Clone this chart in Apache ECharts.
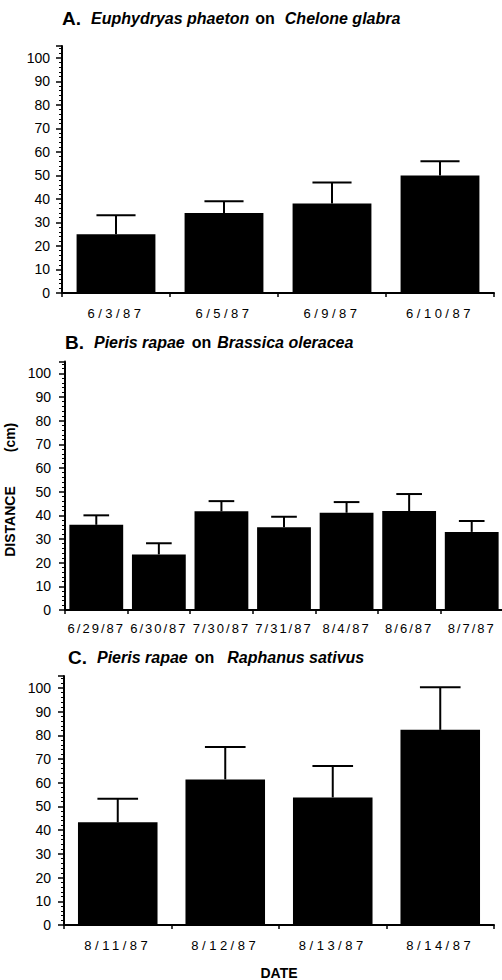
<!DOCTYPE html>
<html>
<head>
<meta charset="utf-8">
<script src="https://cdn.jsdelivr.net/npm/echarts@6/dist/echarts.min.js"></script>
<style>
html,body{margin:0;padding:0;background:#fff}
#c{width:502px;height:980px}
#c text[style*="xwide"]{letter-spacing:3.5px}
#c text[style*="xnarrow"]{letter-spacing:2px}
</style>
</head>
<body>
<div id="c"></div>
<script>
// ---- data ----
var catsA = ['6/3/87', '6/5/87', '6/9/87', '6/10/87'];
var meanA = [25, 34, 38, 50];
var upperA = [33, 39, 47, 56];

var catsB = ['6/29/87', '6/30/87', '7/30/87', '7/31/87', '8/4/87', '8/6/87', '8/7/87'];
var meanB = [36, 23.5, 41.7, 35, 41.1, 41.8, 33];
var upperB = [40, 28.2, 46, 39.4, 45.6, 49, 37.6];

var catsC = ['8/11/87', '8/12/87', '8/13/87', '8/14/87'];
var meanC = [43.3, 61.4, 53.8, 82.3];
var upperC = [53.2, 75.1, 67, 100.3];

var yTicks = [0, 10, 20, 30, 40, 50, 60, 70, 80, 90, 100];

// ---- helpers ----
var FF = "'Liberation Sans', Arial, Helvetica, sans-serif";

function errData(means, uppers) {
  return means.map(function (m, i) { return [i, m, uppers[i]]; });
}
function errRender(ratio) {
  return function (params, api) {
    var i = api.value(0), m = api.value(1), u = api.value(2);
    var p0 = api.coord([i, m]), p1 = api.coord([i, u]);
    var half = api.size([1, 0])[0] * ratio / 2;
    var st = { stroke: '#000', lineWidth: 2 };
    return {
      type: 'group', children: [
        { type: 'line', shape: { x1: p0[0], y1: p0[1], x2: p1[0], y2: p1[1] }, style: st },
        { type: 'line', shape: { x1: p1[0] - half, y1: p1[1], x2: p1[0] + half, y2: p1[1] }, style: st }
      ]
    };
  };
}
function yAx(gi, margin, extra) {
  var o = {
    type: 'value', gridIndex: gi, min: 0, max: 105, interval: 10,
    axisLine: { show: true, lineStyle: { color: '#000', width: 2 } },
    axisTick: { show: true, length: 6, lineStyle: { color: '#000', width: 1.5 } },
    minorTick: { show: true, splitNumber: 5, length: 3, lineStyle: { color: '#000', width: 1 } },
    splitLine: { show: false }, minorSplitLine: { show: false },
    axisLabel: {
      margin: margin, fontSize: 14, color: '#000', fontFamily: FF,
      formatter: function (v) { return yTicks.indexOf(v) >= 0 ? String(v) : ''; }
    }
  };
  if (extra) for (var k in extra) o[k] = extra[k];
  return o;
}
function xAx(gi, cats, margin, fam, extra) {
  var o = {
    type: 'category', gridIndex: gi, data: cats,
    axisLine: { show: true, lineStyle: { color: '#000', width: 2 } },
    axisTick: { show: true, length: 4, lineStyle: { color: '#000', width: 1.5 } },
    splitLine: { show: false },
    axisLabel: { interval: 0, margin: margin, fontSize: 13, color: '#000', fontFamily: "'Liberation Sans', " + fam }
  };
  if (extra) for (var k in extra) o[k] = extra[k];
  return o;
}
function titleRich(p1, p2, p3) {
  return {
    l: { fontSize: 19, fontWeight: 'bold', fontStyle: 'normal', fontFamily: FF, color: '#000', lineHeight: 22 },
    s1: { fontSize: 16, fontWeight: 'bold', fontStyle: 'italic', fontFamily: FF, color: '#000', lineHeight: 22, padding: [0, 0, 0, p1] },
    o: { fontSize: 16, fontWeight: 'bold', fontStyle: 'normal', fontFamily: FF, color: '#000', lineHeight: 22, padding: [0, 0, 0, p2] },
    s2: { fontSize: 16, fontWeight: 'bold', fontStyle: 'italic', fontFamily: FF, color: '#000', lineHeight: 22, padding: [0, 0, 0, p3] }
  };
}

var chart = echarts.init(document.getElementById('c'), null, { renderer: 'svg', width: 502, height: 980 });

var option = {
  backgroundColor: '#fff',
  animation: false,
  title: [
    { left: 62, top: 7, padding: 0, text: '{l|A.}{s1|Euphydryas phaeton}{o|on}{s2|Chelone glabra}', textStyle: { rich: titleRich(10, 6, 10) } },
    { left: 65, top: 331, padding: 0, text: '{l|B.}{s1|Pieris rapae}{o|on}{s2|Brassica oleracea}', textStyle: { rich: titleRich(10, 7, 6) } },
    { left: 68, top: 646, padding: 0, text: '{l|C.}{s1|Pieris rapae}{o|on}{s2|Raphanus sativus}', textStyle: { rich: titleRich(10, 7, 13) } }
  ],
  grid: [
    { left: 62, top: 46, width: 432, height: 247, outerBoundsMode: 'none' },
    { left: 65, top: 361.5, width: 438, height: 248.5, outerBoundsMode: 'none' },
    { left: 64, top: 676, width: 430, height: 249, outerBoundsMode: 'none' }
  ],
  xAxis: [
    xAx(0, catsA, 14, 'xwide'),
    xAx(1, catsB, 12, 'xnarrow'),
    xAx(2, catsC, 14, 'xwide', {
      name: 'DATE', nameLocation: 'middle', nameGap: 41,
      nameTextStyle: { fontSize: 14, fontWeight: 'bold', color: '#000', fontFamily: FF }
    })
  ],
  yAxis: [
    yAx(0, 12),
    yAx(1, 14, {
      name: '{a|DISTANCE}{b|(cm)}', nameLocation: 'middle', nameGap: 46, nameRotate: 90,
      nameTextStyle: {
        color: '#000',
        rich: {
          a: { fontSize: 14, fontWeight: 'bold', color: '#000', fontFamily: FF },
          b: { fontSize: 14, fontWeight: 'bold', color: '#000', fontFamily: FF, padding: [0, 8, 0, 34] }
        }
      }
    }),
    yAx(2, 13)
  ],
  series: [
    { type: 'bar', xAxisIndex: 0, yAxisIndex: 0, data: meanA, barWidth: '73%', itemStyle: { color: '#000' } },
    { type: 'custom', xAxisIndex: 0, yAxisIndex: 0, data: errData(meanA, upperA), encode: { x: 0, y: [1, 2] }, renderItem: errRender(0.362), z: 3 },
    { type: 'bar', xAxisIndex: 1, yAxisIndex: 1, data: meanB, barWidth: '86%', itemStyle: { color: '#000' } },
    { type: 'custom', xAxisIndex: 1, yAxisIndex: 1, data: errData(meanB, upperB), encode: { x: 0, y: [1, 2] }, renderItem: errRender(0.41), z: 3 },
    { type: 'bar', xAxisIndex: 2, yAxisIndex: 2, data: meanC, barWidth: '74%', itemStyle: { color: '#000' } },
    { type: 'custom', xAxisIndex: 2, yAxisIndex: 2, data: errData(meanC, upperC), encode: { x: 0, y: [1, 2] }, renderItem: errRender(0.378), z: 3 }
  ]
};
chart.setOption(option);
</script>
</body>
</html>
